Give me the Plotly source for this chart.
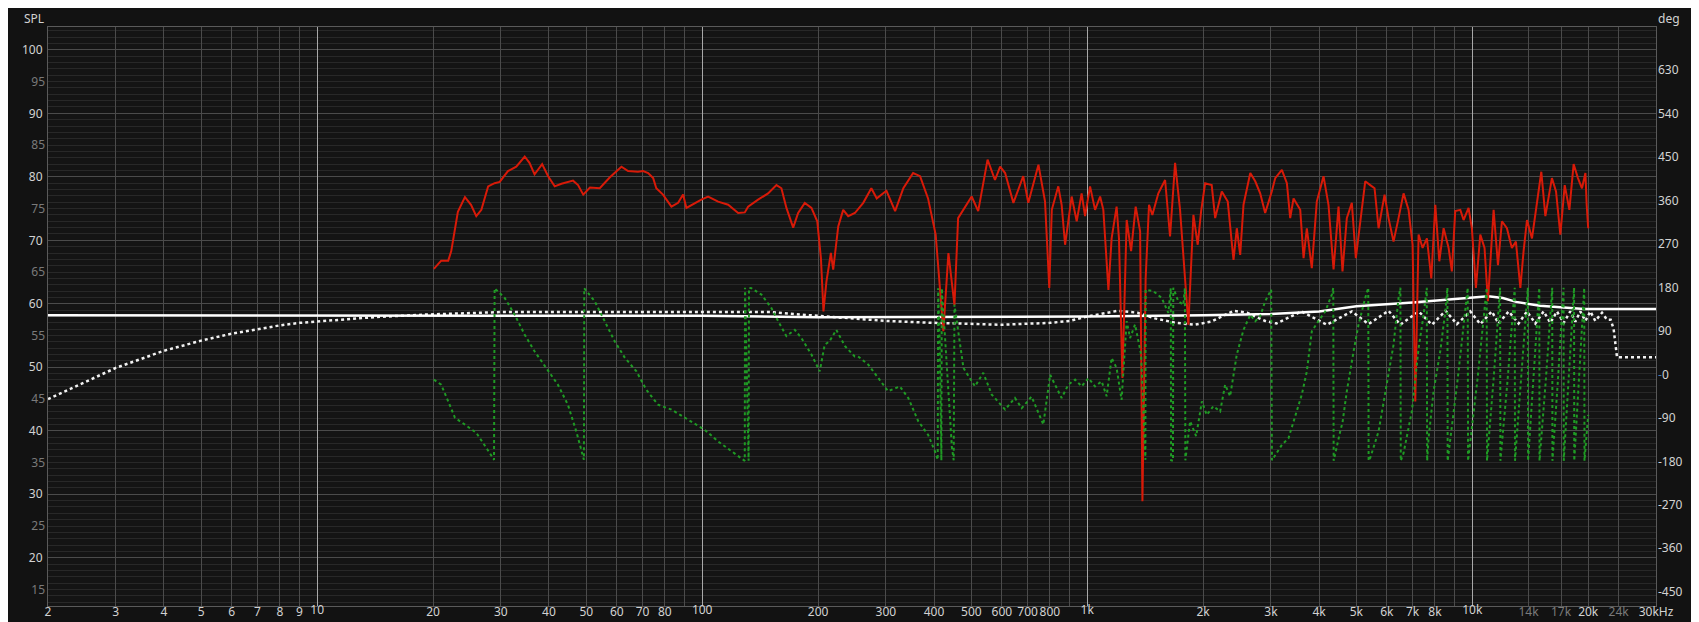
import plotly.graph_objects as go

# ---------------- data ----------------
# Red: measured SPL (left axis, dB)
spl_freq = [20.1, 21.0, 21.9, 22.3, 23.2, 24.2, 25.1, 25.9, 26.7, 27.8, 28.9, 29.8, 31.3, 32.9, 34.6,
            35.6, 36.7, 38.4, 39.8, 41.4, 43.1, 46.2, 47.6, 49.1, 51.1, 54.2, 57.5, 61.7, 64.2, 68.1,
            70.2, 72.4, 74.6, 76.0, 79.1, 83.2, 86.6, 89.2, 91.0, 95.7, 99.5, 103.6, 110, 116.8, 124,
            129, 131.6, 139.7, 148.3, 155.9, 160.6, 165.5, 172.3, 177.5, 184.7, 192.2, 199, 203.4,
            206.5, 210.2, 215.9, 218.9, 225.6, 232.4, 239.5, 249.2, 262, 275, 284, 301, 317, 333, 353,
            368, 386, 404, 415, 423, 436, 443, 452, 462, 477, 501, 521, 537, 551, 576, 594, 612, 643,
            682, 703, 747, 777, 797, 809, 841, 858, 876, 911, 939, 967, 987, 1017, 1048, 1080, 1101,
            1135, 1157, 1192, 1209, 1234, 1266, 1300, 1336, 1372, 1391, 1418, 1447, 1476, 1530, 1593,
            1641, 1691, 1742, 1788, 1831, 1887, 1936, 1976, 2024, 2105, 2149, 2236, 2317, 2398, 2446,
            2496, 2546, 2651, 2731, 2813, 2898, 3015, 3078, 3202, 3300, 3366, 3434, 3574, 3646, 3718,
            3830, 3946, 4108, 4232, 4362, 4494, 4602, 4722, 4866, 4984, 5148, 5272, 5432, 5574, 5710,
            5918, 6060, 6244, 6434, 6630, 6832, 6998, 7112, 7254, 7430, 7624, 7826, 8016, 8210, 8424,
            8680, 8850, 9030, 9310, 9493, 9780, 9976, 10220, 10490, 10760, 10980, 11210, 11360, 11660,
            11940, 12300, 12670, 12980, 13330, 13590, 13870, 14290, 14720, 15110, 15480, 16100, 16500,
            16930, 17380, 17870, 18330, 18810, 19270, 19670, 19820, 20000]
spl_db = [65.5, 66.8, 66.8, 68.3, 74.5, 76.8, 75.6, 73.8, 74.8, 78.5, 79.0, 79.2, 80.9, 81.6, 83.2,
          82.2, 80.4, 82.0, 80.1, 78.5, 78.9, 79.4, 78.7, 77.2, 78.3, 78.2, 79.9, 81.6, 80.9, 80.8,
          80.9, 80.6, 79.8, 78.2, 77.2, 75.3, 75.9, 77.2, 75.1, 75.9, 76.4, 76.9, 76.1, 75.6, 74.3,
          74.4, 75.3, 76.4, 77.4, 78.7, 78.2, 75.1, 72.0, 74.3, 75.9, 75.1, 73.0, 67.2,
          58.8, 63.5, 68.0, 65.4, 72.2, 74.8, 73.8, 74.3, 75.9, 78.2, 76.6, 77.8, 74.6, 78.2, 80.6,
          80.1, 76.6, 70.9, 62.5, 55.7, 68.0, 64.0, 59.8, 73.5, 74.8, 76.9, 74.6, 78.7, 82.7, 79.5, 81.6, 80.6, 75.9,
          80.1, 75.9, 81.9, 76.1, 62.5, 74.8, 78.5, 75.6, 69.3, 76.9, 73.0, 77.4, 73.8, 78.5, 74.8, 76.9, 74.8,
          62.2, 70.3, 75.3, 70.3, 48.3, 73.2, 68.3, 75.3, 71.4, 28.9, 64.0, 75.6, 74.0, 77.4, 79.5,
          70.6, 82.2, 74.8, 64.6, 56.7, 74.0, 69.3, 74.6, 79.0, 78.7, 73.5, 77.7, 76.1, 66.9, 71.9,
          67.7, 75.6, 80.6, 79.3, 77.4, 74.3, 77.7, 79.8, 81.1, 79.0, 73.5, 76.6, 74.8, 67.2, 71.9,
          65.6, 76.1, 80.1, 75.6, 65.4, 75.3, 65.1, 73.5, 75.9, 67.2, 74.6, 79.3, 78.7, 78.2, 71.9,
          77.2, 73.5, 69.8, 73.5, 77.4, 74.8, 69.3, 44.6, 70.9, 68.8, 70.3, 64.0, 75.6, 66.7, 71.9,
          68.8, 65.1, 74.6, 74.8, 73.2, 75.1, 71.9, 62.5, 70.9, 68.8, 60.4, 70.3, 74.8, 66.1,
          73.0, 71.9, 68.8, 69.8, 62.5, 68.3, 73.2, 70.3, 75.6, 80.8, 73.8, 79.8, 77.7,
          70.9, 78.7, 74.8, 82.0, 79.8, 78.2, 80.6, 75.6, 71.9]

# Green: phase (right axis, degrees, wrapped)
phase_freq = [20.1, 21.0, 21.9, 22.8, 24.2, 25.9, 27.5, 28.8, 28.9, 30.7, 32.6, 34.6, 36.7, 39.8, 42.2,
              44.8, 47.1, 49.3, 49.4, 52.6, 55.9, 59.3, 63.0, 67.5, 71.6, 76.8, 83.2, 91.9, 101.6, 110,
              119.1, 126.4, 129.0, 129.2, 132.0, 132.3, 134.2, 142.5, 151.3, 157.5, 165.5, 174, 181,
              192.2, 202, 208, 214, 223, 235, 249, 254, 270, 287, 304, 326, 343, 364, 386, 402, 409,
              410, 414, 418, 419, 427, 436, 445, 450, 452, 477, 511, 537, 565, 612, 649, 676, 717, 769,
              801, 858, 893, 930, 967, 1007, 1048, 1090, 1123, 1157, 1192, 1228, 1266, 1292, 1331, 1380,
              1416, 1418, 1485, 1561, 1624, 1648, 1651, 1670, 1673, 1724, 1777, 1793, 1798, 1850, 1918,
              1985, 2043, 2126, 2214, 2281, 2350, 2446, 2546, 2651, 2731, 2813, 2898, 3004, 3018, 3046,
              3202, 3332, 3468, 3608, 3718, 3830, 3986, 4150, 4318, 4355, 4365, 4442, 4540, 4602, 4722,
              4918, 5066, 5272, 5368, 5380, 5432, 5710, 6000, 6244, 6434, 6506, 6520, 6630, 6968, 7254,
              7474, 7618, 7634, 7700, 7934, 8258, 8510, 8618, 8630, 9170, 9730, 9750, 10310, 10900,
              10920, 11360, 11810, 11830, 12350, 12890, 12910, 13410, 13940, 13960, 14440, 14930, 14950,
              15530, 16130, 16150, 16700, 17260, 17280, 17820, 18380, 18400, 18960, 19530, 19560, 20000]
phase_deg = [-11, -21.5, -56, -90, -104, -121, -152, -177, 178, 158, 123, 82, 47.6, 6, -21.5,
             -63, -118, -177, 178, 151, 110, 68, 34, 6, -32, -63, -73, -94, -115, -139,
             -159, -173, -179, 179, -179, 179, 178, 165, 137, 110, 79, 92, 75,
             41, 6, 61, 68, 92, 58, 37, 37, 20, -8, -35, -25, -49, -97, -125, -159, -177,
             178, 60, -178, 178, 80, -40, -150, -178, 144, 13, -25, 3, -42, -73, -49, -70, -46, -104,
             -1, -49, -21.5, -11, -25, -8, -25, -14.5, -45.5, 34, 13, -53, 110, 75, 103, 41,
             -177, 175, 172, 158, 127, 178, -178, -179, 179, 151, 144, 178, -178, -97, -128,
             -56, -84, -66, -77, -21.5, -45.5, 41, 92, 123, 110, 120, 151, 175, -178, -173,
             -146, -132, -84, -42, 6, 89, 110, 130, 165, 179, -179, -150, -118, -100, -35,
             48, 103, 158, 179, -179, -173, -118, -21.5, 61, 158, 179, -179, -163, -76.5, 54,
             123, 179, -179, -132, -35, 48, 130, 179, -179, -8, 179, -179, -12, 179,
             -179, -10, 179, -179, -12, 179, -179, -10, 179, -179, -8, 179, -179,
             -10, 179, -179, -8, 179, -179, -6, 179, -179, -8, 179, -179, -84]

# White solid: target curve (left axis, dB)
target_freq = [2, 20, 100, 200, 500, 1000, 2000, 3000, 4000, 5000, 7000, 10000, 11000, 12000, 13000,
               15000, 19500, 30000]
target_db = [58.2, 58.2, 58.1, 57.9, 57.9, 58.0, 58.2, 58.4, 58.8, 59.6, 60.2, 60.9, 61.2, 60.9, 60.3,
             59.7, 59.2, 59.2]

# White dotted: second curve (left axis, dB)
dotted_freq = [2, 3, 4, 5, 6, 7, 8, 9, 10, 14.1, 19, 30, 60, 150, 200, 250, 300, 400, 600, 800, 900,
               1000, 1200, 1350, 1500, 1700, 1900, 2100, 2400, 2600, 2900, 3100, 3300, 3600, 4190,
               4866, 5378, 6060, 6502, 7254, 7854, 8526, 9120, 9880, 10490, 11240, 11700, 12430,
               13190, 13870, 14580, 15320, 15950, 16590, 17270, 17970, 18520, 19080, 19670, 20260,
               20870, 21720, 22380, 22880, 23290, 23500, 23760, 30000]
dotted_db = [45.0, 49.9, 52.6, 54.2, 55.3, 56.0, 56.6, 57.0, 57.2, 57.9, 58.3, 58.7, 58.7, 58.7, 58.1,
             57.7, 57.3, 57.0, 56.7, 57.0, 57.3, 58.0, 58.9, 58.6, 57.7, 57.0, 56.7, 57.2, 58.9, 58.6,
             57.3, 56.9, 57.7, 58.8, 56.7, 58.8, 56.8, 58.9, 56.7, 58.8, 56.7, 58.9, 56.8, 58.8, 56.8,
             58.8, 56.9, 58.8, 56.9, 58.8, 56.9, 58.8, 57.0, 58.8, 57.0, 58.8, 57.2, 58.8, 57.3, 58.8,
             57.3, 58.6, 57.5, 57.5, 56.0, 53.5, 51.6, 51.6]

# Axis ticks
x_ticks = [2, 3, 4, 5, 6, 7, 8, 9, 20, 30, 40, 50, 60, 70, 80, 90, 200, 300, 400, 500, 600, 700, 800, 900,
           2000, 3000, 4000, 5000, 6000, 7000, 8000, 9000, 14000, 17000, 20000, 24000, 30000]
x_labels = ['2', '3', '4', '5', '6', '7', '8', '9', '20', '30', '40', '50', '60', '70', '80', '',
            '200', '300', '400', '500', '600', '700', '800', '', '2k', '3k', '4k', '5k', '6k', '7k', '8k', '',
            '14k', '17k', '20k', '24k', '30kHz']
x_dim_labels = ['14k', '17k', '24k']
x_decades = [10, 100, 1000, 10000]
x_decade_labels = ['10', '100', '1k', '10k']
spl_ticks = [20, 30, 40, 50, 60, 70, 80, 90, 100]
spl_half_ticks = [15, 25, 35, 45, 55, 65, 75, 85, 95]
deg_ticks = [630, 540, 450, 360, 270, 180, 90, 0, -90, -180, -270, -360, -450]

# ---------------- figure ----------------
LABEL = '#d2d2d2'
DIM = '#7a7a7a'
FONT = 'Noto Sans'

fig = go.Figure()
fig.add_trace(go.Scatter(x=phase_freq, y=phase_deg, yaxis='y2', mode='lines',
                         line=dict(color='#1f9a24', width=2, dash='dot'), showlegend=False))
fig.add_trace(go.Scatter(x=dotted_freq, y=dotted_db, mode='lines',
                         line=dict(color='#f2f2f2', width=2.5, dash='dot'), showlegend=False))
fig.add_trace(go.Scatter(x=target_freq, y=target_db, mode='lines',
                         line=dict(color='#ffffff', width=2.5), showlegend=False))
fig.add_trace(go.Scatter(x=spl_freq, y=spl_db, mode='lines',
                         line=dict(color='#d81a08', width=2), showlegend=False))
# helper trace so the overlay axes (decade grid, half labels) are instantiated
fig.add_trace(go.Scatter(x=[None], y=[None], xaxis='x2', yaxis='y3', showlegend=False, hoverinfo='skip'))

xr = [0.30103, 4.4771213]
common_x = dict(type='log', range=xr, tickmode='array', zeroline=False, ticks='', ticklen=0, tickangle=0,
                automargin=False, tickfont=dict(size=12, color=LABEL), ticklabelstandoff=-5)
fig.update_layout(
    width=1699, height=622,
    margin=dict(l=40, r=51, t=19, b=24),
    paper_bgcolor='#121212', plot_bgcolor='#141414',
    font=dict(family=FONT, size=12, color=LABEL),
    xaxis=dict(common_x, tickvals=x_ticks,
               ticktext=[('<span style="color:%s">%s</span>' % (DIM, t)) if t in x_dim_labels else t
                         for t in x_labels],
               showgrid=True, gridcolor='#4b4b4b', gridwidth=1,
               showline=True, linecolor='#5a5a5a', linewidth=1, mirror=True),
    xaxis2=dict(common_x, overlaying='x', anchor='y', side='bottom',
                tickvals=x_decades, ticktext=x_decade_labels, showgrid=True, gridcolor='#a8a8a8',
                gridwidth=1, showline=False),
    yaxis=dict(range=[12.4, 103.6], tickmode='array', tickvals=spl_ticks,
               ticktext=[str(v) for v in spl_ticks], showgrid=True, gridcolor='#4b4b4b',
               zeroline=False, showline=True, linecolor='#5a5a5a', mirror=True, ticks='',
               tickfont=dict(size=12, color=LABEL), automargin=False, ticklabelstandoff=2,
               minor=dict(dtick=1, tick0=0, showgrid=True, gridcolor='#282828', ticks='')),
    yaxis3=dict(range=[12.4, 103.6], overlaying='y', anchor='x2', side='left', tickmode='array',
                tickvals=spl_half_ticks, ticktext=[str(v) for v in spl_half_ticks], showgrid=False,
                zeroline=False, showline=False, ticks='', tickfont=dict(size=12, color=DIM),
                automargin=False, ticklabelstandoff=2),
    yaxis2=dict(range=[-479.4, 718.6], overlaying='y', side='right', anchor='x', tickmode='array',
                tickvals=deg_ticks,
                ticktext=[('<span style="color:#4a78b0">-</span>0' if v == 0 else str(v)) for v in deg_ticks],
                showgrid=False, zeroline=False, showline=False, ticks='',
                tickfont=dict(size=12, color=LABEL), automargin=False, ticklabelstandoff=1),
    annotations=[
        dict(text='SPL', xref='paper', yref='paper', x=-0.002, y=1.0305, xanchor='right', yanchor='top',
             showarrow=False, borderpad=0, font=dict(size=12, color=LABEL, family=FONT)),
        dict(text='deg', xref='paper', yref='paper', x=1.0008, y=1.0305, xanchor='left', yanchor='top',
             showarrow=False, borderpad=0, font=dict(size=12, color=LABEL, family=FONT)),
    ],
)

fig.write_html('out.html')
